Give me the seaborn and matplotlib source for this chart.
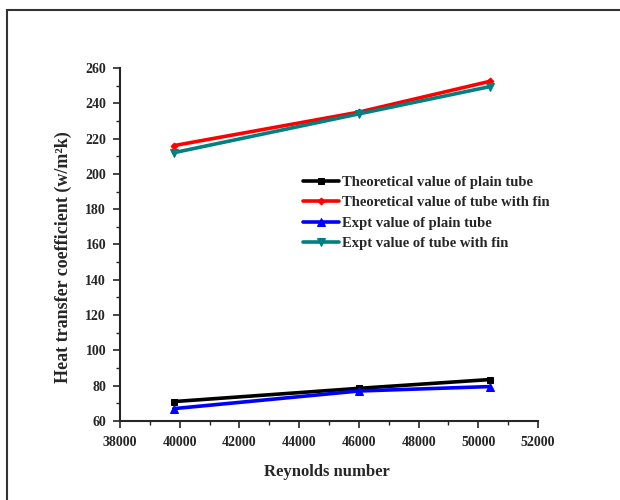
import pandas as pd
import matplotlib.pyplot as plt
import matplotlib.patches as mpatches
from matplotlib.ticker import MultipleLocator, StrMethodFormatter
import seaborn as sns

# Reynolds numbers and heat transfer coefficients
reynolds = [39800, 46000, 50400]
theo_plain = [71, 78.5, 83.5]
theo_fin = [216, 235, 252.5]
expt_plain = [67, 77, 79.5]
expt_fin = [212, 234, 249.5]

series = {
    "Theoretical value of plain tube": theo_plain,
    "Theoretical value of tube with fin": theo_fin,
    "Expt value of plain tube": expt_plain,
    "Expt value of tube with fin": expt_fin,
}
colors = ["black", "red", "blue", "#008080"]
markers = ["s", "D", "^", "v"]
msizes = [5, 3.5, 6, 6]

rows = []
for name, vals in series.items():
    for re_, h in zip(reynolds, vals):
        rows.append({"Reynolds": re_, "h": h, "series": name})
df = pd.DataFrame(rows)

sns.set_style("ticks")
plt.rcParams["font.family"] = ["Liberation Serif", "DejaVu Serif"]

fig = plt.figure(figsize=(6.2, 5), dpi=100)
ax = fig.add_axes([120 / 620, 1 - 421 / 500, 418 / 620, 353 / 500])

for (name, _), c, m, ms in zip(series.items(), colors, markers, msizes):
    sub = df[df["series"] == name]
    sns.lineplot(data=sub, x="Reynolds", y="h", ax=ax, color=c, marker=m,
                 markersize=ms, markeredgecolor=c, linewidth=2.6, label=name)

ax.xaxis.set_major_locator(MultipleLocator(2000))
ax.xaxis.set_minor_locator(MultipleLocator(1000))
ax.yaxis.set_major_locator(MultipleLocator(20))
ax.yaxis.set_minor_locator(MultipleLocator(10))
ax.xaxis.set_major_formatter(StrMethodFormatter("{x:.0f}"))
ax.set_xlim(38000, 52000)
ax.set_ylim(60, 260)
ax.tick_params(which="major", direction="out", length=5, width=1.2, labelsize=10)
ax.tick_params(which="minor", direction="out", length=3, width=1)
ax.tick_params(axis="x", which="major", pad=6)
ax.tick_params(axis="y", which="major", pad=5)
for lbl in ax.get_xticklabels() + ax.get_yticklabels():
    lbl.set_fontweight("bold")

sns.despine(ax=ax)
ax.spines["left"].set_linewidth(1.5)
ax.spines["bottom"].set_linewidth(1.5)

ax.set_xlabel("Reynolds number", fontsize=12, fontweight="bold")
ax.xaxis.label.set_va("center")
ax.xaxis.set_label_coords(0.495, -0.144)
ax.set_ylabel("Heat transfer coefficient (w/m\u00b2k)", fontsize=13,
              fontweight="bold")
ax.yaxis.label.set_va("center")
ax.yaxis.set_label_coords(-0.136, 0.465)

leg = ax.legend(loc="upper left", bbox_to_anchor=(303 / 620, 1 - 176 / 500),
                bbox_transform=fig.transFigure, frameon=False, borderpad=0,
                borderaxespad=0, prop={"size": 10.5, "weight": "bold"},
                handlelength=2.5, handletextpad=0.2, labelspacing=0.48)

# outer frame around the figure
fig.patches.append(mpatches.Rectangle((7 / 620, -0.05), 1.1, 1 - 10 / 500 + 0.05,
                                      transform=fig.transFigure, fill=False,
                                      edgecolor="#333333", linewidth=1.5))

fig.savefig("out.png", dpi=100)
